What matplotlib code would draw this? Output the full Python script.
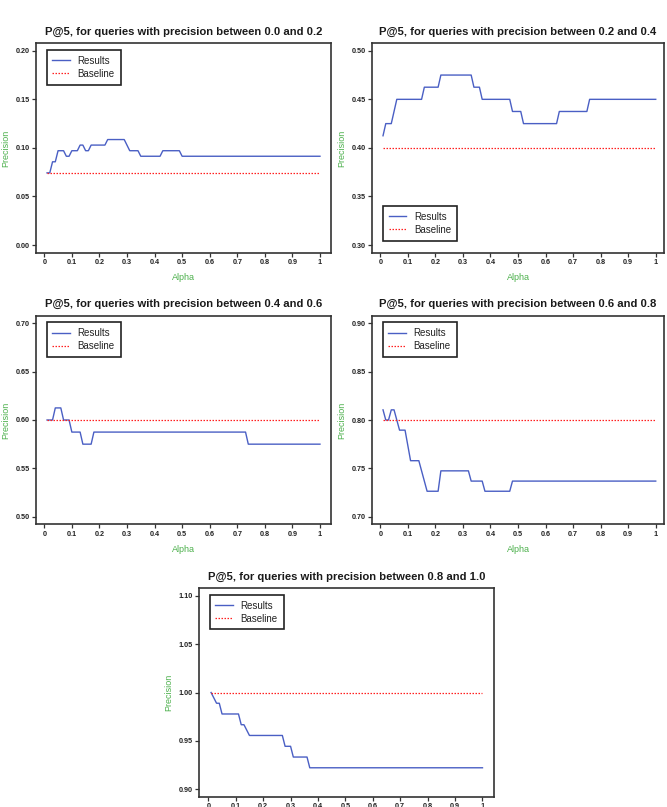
import matplotlib
matplotlib.use("Agg")
import matplotlib.pyplot as plt

plt.rcParams['font.family'] = ['Liberation Sans', 'DejaVu Sans']

titles = [
    "P@5, for queries with precision between 0.0 and 0.2",
    "P@5, for queries with precision between 0.2 and 0.4",
    "P@5, for queries with precision between 0.4 and 0.6",
    "P@5, for queries with precision between 0.6 and 0.8",
    "P@5, for queries with precision between 0.8 and 1.0",
]

# Results curves: (alpha, precision) vertices
a1 = [0.01, 0.02, 0.03, 0.04, 0.05, 0.07, 0.08, 0.09, 0.10, 0.12, 0.13, 0.14, 0.15, 0.16,
      0.17, 0.22, 0.23, 0.29, 0.31, 0.34, 0.35, 0.42, 0.43, 0.49, 0.50, 1.00]
v1 = [0.0743, 0.0743, 0.0857, 0.0857, 0.0971, 0.0971, 0.0914, 0.0914, 0.0971, 0.0971, 0.1029,
      0.1029, 0.0971, 0.0971, 0.1029, 0.1029, 0.1086, 0.1086, 0.0971, 0.0971, 0.0914, 0.0914,
      0.0971, 0.0971, 0.0914, 0.0914]

a2 = [0.01, 0.02, 0.04, 0.06, 0.15, 0.16, 0.21, 0.22, 0.33, 0.34, 0.36, 0.37, 0.47, 0.48,
      0.51, 0.52, 0.64, 0.65, 0.75, 0.76, 1.00]
v2 = [0.4125, 0.425, 0.425, 0.45, 0.45, 0.4625, 0.4625, 0.475, 0.475, 0.4625, 0.4625, 0.45,
      0.45, 0.4375, 0.4375, 0.425, 0.425, 0.4375, 0.4375, 0.45, 0.45]

a3 = [0.01, 0.03, 0.04, 0.06, 0.07, 0.09, 0.10, 0.13, 0.14, 0.17, 0.18, 0.73, 0.74, 1.00]
v3 = [0.60, 0.60, 0.6125, 0.6125, 0.60, 0.60, 0.5875, 0.5875, 0.575, 0.575, 0.5875, 0.5875,
      0.575, 0.575]

a4 = [0.01, 0.02, 0.03, 0.04, 0.05, 0.06, 0.07, 0.09, 0.11, 0.14, 0.17, 0.21, 0.22, 0.32,
      0.33, 0.37, 0.38, 0.47, 0.48, 1.00]
v4 = [0.8105, 0.80, 0.80, 0.8105, 0.8105, 0.80, 0.7895, 0.7895, 0.7579, 0.7579, 0.7263,
      0.7263, 0.7474, 0.7474, 0.7368, 0.7368, 0.7263, 0.7263, 0.7368, 0.7368]

a5 = [0.01, 0.03, 0.04, 0.05, 0.11, 0.12, 0.13, 0.15, 0.27, 0.28, 0.30, 0.31, 0.36, 0.37, 1.00]
v5 = [1.0, 0.9889, 0.9889, 0.9778, 0.9778, 0.9667, 0.9667, 0.9556, 0.9556, 0.9444, 0.9444,
      0.9333, 0.9333, 0.9222, 0.9222]

baselines = [0.0743, 0.40, 0.60, 0.80, 1.00]
base_alpha = [0.01, 1.00]

y_ranges = [(0.00, 0.20), (0.30, 0.50), (0.50, 0.70), (0.70, 0.90), (0.90, 1.10)]
y_tick_step = 0.05
x_ticks = [0, 0.1, 0.2, 0.3, 0.4, 0.5, 0.6, 0.7, 0.8, 0.9, 1]
x_tick_labels = ["0", "0.1", "0.2", "0.3", "0.4", "0.5", "0.6", "0.7", "0.8", "0.9", "1"]

series = [(a1, v1), (a2, v2), (a3, v3), (a4, v4), (a5, v5)]

W, H = 667, 807
fig = plt.figure(figsize=(W / 100, H / 100), dpi=100)

# axes boxes in pixels: left, top, right, bottom
boxes = [(36, 43, 331, 252.8), (372, 43, 664, 252.8),
         (36, 315.6, 331, 524.4), (372, 315.6, 664, 524.4),
         (199, 588, 494, 797)]
xlims = [(-0.03, 1.04), (-0.03, 1.03), (-0.03, 1.04), (-0.03, 1.03), (-0.034, 1.042)]
legend_lower = [False, True, False, False, False]

blue = "#4a5fc4"
green = "#4cb04c"
frame = "#333333"

for i in range(5):
    l, t, r, b = boxes[i]
    ax = fig.add_axes([l / W, 1 - b / H, (r - l) / W, (b - t) / H])
    a, v = series[i]
    ax.plot(a, v, color=blue, lw=1.0, label="Results")
    ax.plot(base_alpha, [baselines[i]] * 2, color="#ff2020", lw=0.9,
            linestyle=(0, (1.2, 1.2)), label="Baseline")
    y0, y1 = y_ranges[i]
    pad = (y1 - y0) * 0.04
    ax.set_ylim(y0 - pad, y1 + pad)
    ax.set_xlim(*xlims[i])
    yt = [y0 + k * y_tick_step for k in range(5)]
    ax.set_yticks(yt)
    ax.set_yticklabels([f"{y:.2f}" for y in yt])
    ax.set_xticks(x_ticks)
    ax.set_xticklabels(x_tick_labels)
    ax.tick_params(axis='both', labelsize=5.2, length=3, width=0.9, color=frame,
                   labelcolor="#222222", pad=1.5)
    for lab in ax.get_xticklabels() + ax.get_yticklabels():
        lab.set_fontweight('bold')
    for sp in ax.spines.values():
        sp.set_color(frame)
        sp.set_linewidth(1.2)
    ax.set_title(titles[i], fontsize=8.1, fontweight='bold', color="#1a1a1a", pad=6)
    ax.set_xlabel("Alpha", color=green, fontsize=6.5, labelpad=5)
    ax.set_ylabel("Precision", color=green, fontsize=6.5, labelpad=4)
    leg_kw = dict(borderaxespad=0, fontsize=7, borderpad=0.6, labelspacing=0.3,
                  handlelength=1.8, handletextpad=0.8, fancybox=False, framealpha=1)
    if legend_lower[i]:
        leg = ax.legend(loc='lower left', bbox_to_anchor=(0.037, 0.058), **leg_kw)
    else:
        leg = ax.legend(loc='upper left', bbox_to_anchor=(0.036, 0.967), **leg_kw)
    leg.get_frame().set_edgecolor("#222222")
    leg.get_frame().set_linewidth(1.2)
    for txt in leg.get_texts():
        txt.set_color("#222222")

fig.savefig("out.png", dpi=100, facecolor="white")
